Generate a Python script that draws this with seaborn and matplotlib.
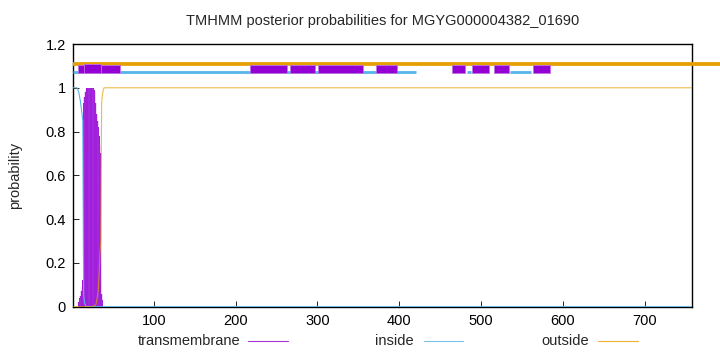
import numpy as np
import pandas as pd
import seaborn as sns
import matplotlib
matplotlib.use("Agg")
import matplotlib.pyplot as plt
from matplotlib.lines import Line2D

# ---------------- data ----------------
title = "TMHMM posterior probabilities for MGYG000004382_01690"
seq_len = 758

# transmembrane posterior (residue, probability) - drawn as impulses
tm_res = [7, 8, 9, 10, 11, 12, 13, 14, 15, 16, 17, 18, 19, 20, 21, 22, 23, 24, 25,
          26, 27, 28, 29, 30, 31, 32, 33, 34, 35, 36, 37, 38]
tm_prob = [0.0, 0.02, 0.04, 0.05, 0.07, 0.09, 0.12, 0.93, 0.96, 0.98, 0.99, 1.0, 1.0,
           1.0, 1.0, 1.0, 1.0, 1.0, 1.0, 1.0, 0.99, 0.98, 0.93, 0.88, 0.85,
           0.82, 0.78, 0.74, 0.70, 0.06, 0.03, 0.0]

# inside posterior (residue, probability)
in_res = [1, 6, 7, 8, 9, 10, 11, 12, 13, 14, 15, 16, 17, 758]
in_prob = [1.0, 1.0, 0.99, 0.98, 0.96, 0.94, 0.91, 0.88, 0.85, 0.05, 0.02, 0.01, 0.0, 0.0]

# outside posterior (residue, probability)
out_res = [1, 25, 27, 29, 30, 31, 32, 33, 34, 35, 36, 37, 38, 39, 758]
out_prob = [0.0, 0.0, 0.005, 0.01, 0.03, 0.05, 0.08, 0.15, 0.25, 0.30, 0.93, 0.97, 0.99, 1.0, 1.0]

# predicted topology band at the top
outside_seg_start = [1]
outside_seg_end = [800]
inside_seg_start = [1, 483, 536]
inside_seg_end = [421, 488, 561]
tm_box_start = [7, 217, 266, 301, 371, 465, 489, 516, 563]
tm_box_end = [59, 263, 297, 356, 397, 481, 510, 534, 584]
tm_core_start = [14]
tm_core_end = [35]

x_ticks = [100, 200, 300, 400, 500, 600, 700]
y_ticks = [0, 0.2, 0.4, 0.6, 0.8, 1.0, 1.2]
y_tick_labels = ["0", "0.2", "0.4", "0.6", "0.8", "1", "1.2"]
legend_labels = ["transmembrane", "inside", "outside"]

# ---------------- style ----------------
sns.set_style("white")
plt.rcParams["font.family"] = ["Liberation Sans", "DejaVu Sans"]
PURPLE = "#9400D3"
BLUE = "#56B4E9"
ORANGE = "#E69F00"
FS = 10.5

W, H = 720, 352
fig = plt.figure(figsize=(W / 100, H / 100), dpi=100)
L, R, T, B = 73, 692, 44, 306.7
ax = fig.add_axes([L / W, (H - B) / H, (R - L) / W, (B - T) / H])

# curves
ax.fill_between(tm_res, 0, tm_prob, step="mid", color=PURPLE, linewidth=0, zorder=2)
ax.vlines(tm_res, 0, tm_prob, color="#B24BE6", lw=0.35, zorder=2.5)
sns.lineplot(x=in_res, y=in_prob, ax=ax, color=BLUE, lw=0.8, zorder=3)
sns.lineplot(x=out_res, y=out_prob, ax=ax, color=ORANGE, lw=0.8, alpha=0.7, zorder=3)

# topology band
for s, e in zip(outside_seg_start, outside_seg_end):
    ax.plot([s, e], [1.11, 1.11], color=ORANGE, lw=2.7, solid_capstyle="butt",
            clip_on=False, zorder=4)
for s, e in zip(inside_seg_start, inside_seg_end):
    ax.plot([s, e], [1.07, 1.07], color=BLUE, lw=2.0, solid_capstyle="butt", zorder=4)
ax.broken_barh([(s, e - s) for s, e in zip(tm_box_start, tm_box_end)], (1.066, 0.036),
               facecolors=PURPLE, edgecolors=(0.75, 0.45, 0.9), linewidth=0.6, zorder=5)
ax.broken_barh([(s, e - s) for s, e in zip(tm_core_start, tm_core_end)], (1.066, 0.044),
               facecolors=PURPLE, edgecolors=(0.75, 0.45, 0.9), linewidth=0.6, zorder=5)

# axes
ax.set_xlim(1, seq_len)
ax.set_ylim(0, 1.2)
ax.set_xticks(x_ticks)
ax.set_xticklabels([str(v) for v in x_ticks])
ax.set_yticks(y_ticks)
ax.set_yticklabels(y_tick_labels)
ax.tick_params(direction="in", length=4, width=0.6, labelsize=FS, pad=5,
               colors="black", bottom=True, left=True)
for sp in ax.spines.values():
    sp.set_color("black")
    sp.set_linewidth(1.0)
ax.set_xlabel("")
ax.set_ylabel("probability", fontsize=FS, labelpad=17)
ax.set_title(title, fontsize=FS, pad=14)

# legend (gnuplot style, below the axis)
leg_text_right = [240, 414, 589]
leg_line = [(248, 288), (424, 463), (598, 638)]
leg_colors = [PURPLE, BLUE, ORANGE]
ly = H - 341
for lab, tx, (x0, x1), c in zip(legend_labels, leg_text_right, leg_line, leg_colors):
    fig.text(tx / W, ly / H, lab, ha="right", va="center", fontsize=FS)
    fig.add_artist(Line2D([x0 / W, x1 / W], [ly / H, ly / H], color=c, lw=0.8,
                          alpha=0.8, transform=fig.transFigure))

fig.savefig("out.png", dpi=100)
